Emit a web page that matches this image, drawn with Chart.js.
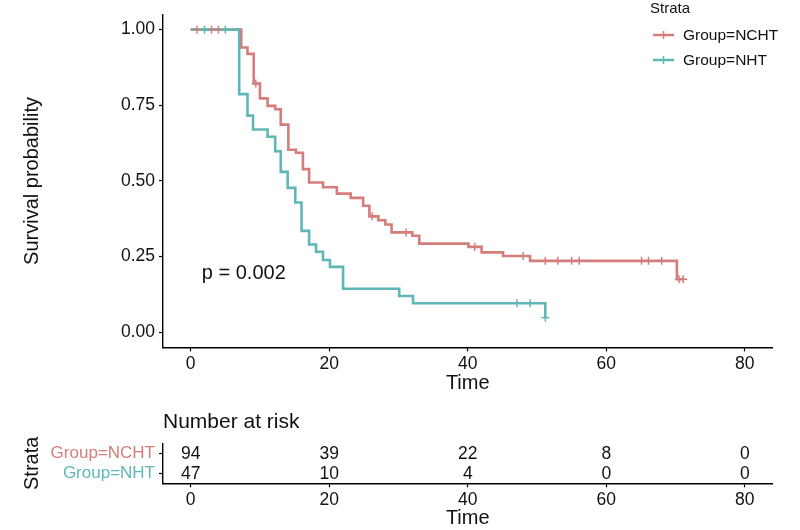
<!DOCTYPE html>
<html>
<head>
<meta charset="utf-8">
<script src="https://cdn.jsdelivr.net/npm/chart.js@4.4.1/dist/chart.umd.min.js"></script>
<style>
  html, body { margin: 0; padding: 0; background: #fff; }
  #wrap { position: relative; width: 800px; height: 530px; }
  #main { position: absolute; left: 0; top: 0; }
  #risk { position: absolute; left: 0; top: 395px; }
</style>
</head>
<body>
<div id="wrap">
  <canvas id="main" width="800" height="395"></canvas>
  <canvas id="risk" width="800" height="135"></canvas>
</div>
<script>
// ---------- data ----------
const groups = ['Group=NCHT', 'Group=NHT'];
const nchtTime = [0, 7.3, 8.2, 9.1, 10, 11.1, 12.2, 13, 14.1, 15.2, 16.2, 17.1, 19.1, 21.1, 23.1, 24.9, 25.8, 27.1, 28.1, 29, 32, 33, 40.1, 42, 45.1, 49, 70.2, 71.1];
const nchtSurv = [1, 0.941, 0.920, 0.822, 0.773, 0.748, 0.737, 0.686, 0.603, 0.593, 0.539, 0.495, 0.479, 0.458, 0.444, 0.418, 0.383, 0.370, 0.356, 0.330, 0.319, 0.293, 0.282, 0.264, 0.252, 0.236, 0.175, 0.175];
const nchtCensor = [0.9, 3, 4, 9.4, 26.2, 31.1, 41.0, 48, 51.2, 53, 55, 56.1, 65.1, 66.1, 68, 70.5, 71.1];
const nhtTime = [0, 7, 8.2, 9, 11.1, 12.2, 13, 14, 15.1, 16, 17.1, 18.1, 19.1, 20.1, 22, 30.1, 32.1, 51.2];
const nhtSurv = [1, 0.787, 0.716, 0.670, 0.646, 0.598, 0.530, 0.477, 0.429, 0.335, 0.290, 0.266, 0.239, 0.216, 0.144, 0.120, 0.096, 0.048];
const nhtCensor = [2, 5, 47.1, 49, 51.2];
const xTicks = [0, 20, 40, 60, 80];
const yTicks = [0, 0.25, 0.5, 0.75, 1];
const riskTimes = [0, 20, 40, 60, 80];
const nchtRisk = [94, 39, 22, 8, 0];
const nhtRisk = [47, 10, 4, 0, 0];
const pText = 'p = 0.002';
const pPos = [1.6, 0.195];

// ---------- styles ----------
const RED = '#D47D7B';
const TEAL = '#5FB7B6';
const FONT = "'Liberation Sans', Arial, sans-serif";
const INK = '#111111';

function survAt(times, surv, t) {
  let s = surv[0];
  for (let i = 0; i < times.length; i++) { if (times[i] <= t + 1e-9) s = surv[i]; }
  return s;
}
const pts = (ts, ss) => ts.map((t, i) => ({ x: t, y: ss[i] }));
const cens = (c, ts, ss) => c.map(t => ({ x: t, y: survAt(ts, ss, t) }));

function axisCommon(extra) {
  return Object.assign({
    grid: { display: true, drawOnChartArea: false, drawTicks: true, tickLength: 4, tickWidth: 1.2, tickColor: '#000' },
    border: { display: true, color: '#000', width: 1.4 },
  }, extra);
}

// ---------- main chart ----------
const legendPlugin = {
  id: 'kmExtras',
  afterDraw(chart) {
    const c = chart.ctx;
    const xs = chart.scales.x, ys = chart.scales.y;
    c.save();
    // p-value
    c.fillStyle = INK;
    c.font = '20px ' + FONT;
    c.textAlign = 'left';
    c.textBaseline = 'middle';
    c.fillText(pText, xs.getPixelForValue(pPos[0]), ys.getPixelForValue(pPos[1]));
    // legend
    c.font = '15px ' + FONT;
    c.fillText('Strata', 650, 9);
    const cols = [RED, TEAL];
    const ly = [35, 60];
    groups.forEach((g, i) => {
      c.strokeStyle = cols[i];
      c.lineWidth = 2.5;
      c.beginPath(); c.moveTo(653, ly[i]); c.lineTo(674, ly[i]); c.stroke();
      c.lineWidth = 1.5;
      c.beginPath(); c.moveTo(663.5, ly[i] - 4); c.lineTo(663.5, ly[i] + 4); c.stroke();
      c.fillStyle = INK;
      c.font = '15.5px ' + FONT;
      c.fillText(g, 683, ly[i] + 0.5);
    });
    c.restore();
  }
};

new Chart(document.getElementById('main'), {
  type: 'line',
  data: {
    datasets: [
      { label: 'NHT censor', data: cens(nhtCensor, nhtTime, nhtSurv), showLine: false, pointStyle: 'cross', pointRadius: 4, pointBorderWidth: 1.5, borderColor: TEAL, backgroundColor: TEAL },
      { label: 'NCHT censor', data: cens(nchtCensor, nchtTime, nchtSurv), showLine: false, pointStyle: 'cross', pointRadius: 4, pointBorderWidth: 1.5, borderColor: RED, backgroundColor: RED },
      { label: groups[1], data: pts(nhtTime, nhtSurv), stepped: true, borderColor: TEAL, borderWidth: 2.6, pointRadius: 0, fill: false, borderJoinStyle: 'miter', borderCapStyle: 'butt' },
      { label: groups[0], data: pts(nchtTime, nchtSurv), stepped: true, borderColor: RED, borderWidth: 2.6, pointRadius: 0, fill: false, borderJoinStyle: 'miter', borderCapStyle: 'butt' },
    ]
  },
  options: {
    responsive: false, animation: false, devicePixelRatio: 1,
    layout: { padding: { left: 0, right: 27.5, top: 2.6, bottom: 0 } },
    plugins: { legend: { display: false }, tooltip: { enabled: false } },
    scales: {
      x: axisCommon({
        type: 'linear', min: -4, max: 84,
        afterBuildTicks: s => { s.ticks = xTicks.map(v => ({ value: v })); },
        afterFit: s => { s.height = 47.6; },
        ticks: { color: INK, font: { family: FONT, size: 17.5 }, padding: 2, maxRotation: 0, autoSkip: false },
        title: { display: true, text: 'Time', color: INK, font: { family: FONT, size: 20 }, padding: { top: 0, bottom: 0 } }
      }),
      y: axisCommon({
        type: 'linear', min: -0.05, max: 1.05,
        afterBuildTicks: s => { s.ticks = yTicks.map(v => ({ value: v })); },
        afterFit: s => { s.width = 163; },
        ticks: { color: INK, font: { family: FONT, size: 17.5 }, padding: 4, autoSkip: false, callback: v => Number(v).toFixed(2) },
        title: { display: true, text: 'Survival probability', color: INK, font: { family: FONT, size: 20 }, padding: { top: 20, bottom: 0 } }
      })
    }
  },
  plugins: [legendPlugin]
});

// ---------- risk table ----------
const riskPlugin = {
  id: 'riskText',
  afterDraw(chart) {
    const c = chart.ctx;
    const xs = chart.scales.x, ys = chart.scales.y;
    c.save();
    c.fillStyle = INK;
    c.font = '21px ' + FONT;
    c.textAlign = 'left';
    c.textBaseline = 'middle';
    c.fillText('Number at risk', 163, 27);
    c.font = '17.5px ' + FONT;
    c.textAlign = 'center';
    const rows = [nchtRisk, nhtRisk];
    rows.forEach((r, gi) => {
      const y = ys.getPixelForValue(gi);
      r.forEach((n, i) => c.fillText(String(n), xs.getPixelForValue(riskTimes[i]), y + 1));
    });
    c.restore();
  }
};

new Chart(document.getElementById('risk'), {
  type: 'scatter',
  data: {
    labels: groups,
    datasets: [{ data: [], pointRadius: 0 }]
  },
  options: {
    responsive: false, animation: false, devicePixelRatio: 1,
    layout: { padding: { left: 0, right: 27.5, top: 48.3, bottom: 0 } },
    plugins: { legend: { display: false }, tooltip: { enabled: false } },
    scales: {
      x: axisCommon({
        type: 'linear', min: -4, max: 84,
        afterBuildTicks: s => { s.ticks = xTicks.map(v => ({ value: v })); },
        afterFit: s => { s.height = 46.7; },
        ticks: { color: INK, font: { family: FONT, size: 17.5 }, padding: 2, maxRotation: 0, autoSkip: false },
        title: { display: true, text: 'Time', color: INK, font: { family: FONT, size: 20 }, padding: { top: 0, bottom: 0 } }
      }),
      y: axisCommon({
        type: 'category', labels: groups, offset: true,
        afterFit: s => { s.width = 163; },
        ticks: { color: ctx => [RED, TEAL][ctx.index], font: { family: FONT, size: 17 }, padding: 4, autoSkip: false },
        title: { display: true, text: 'Strata', color: INK, font: { family: FONT, size: 20 }, padding: { top: 20, bottom: 0 } }
      })
    }
  },
  plugins: [riskPlugin]
});
</script>
</body>
</html>
